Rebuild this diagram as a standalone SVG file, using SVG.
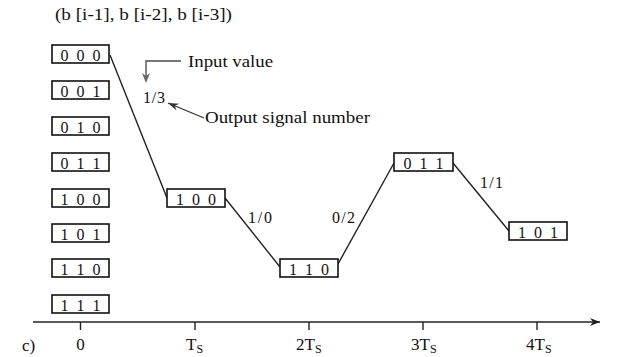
<svg xmlns="http://www.w3.org/2000/svg" width="620" height="357" viewBox="0 0 620 357">
<defs>
<style>
text{font-family:"Liberation Serif","Times New Roman",serif;fill:#111}
.box{fill:#fff;stroke:#111;stroke-width:1.6}
.bt{font-size:16px;text-anchor:middle}
.lbl{font-size:16px}
.ax{font-size:17px}
.sub{font-size:12px}
.edge{stroke:#222;stroke-width:1.4;fill:none}
</style>
<marker id="ah" viewBox="0 0 10 10" refX="10" refY="5" markerWidth="10" markerHeight="10" markerUnits="userSpaceOnUse" orient="auto">
<path d="M0,1 L10,5 L0,9 L3,5 Z" fill="#222"/>
</marker>
<marker id="ahd" viewBox="0 0 12 10" refX="12" refY="5" markerWidth="12" markerHeight="9" markerUnits="userSpaceOnUse" orient="auto">
<path d="M0,1 L12,5 L0,9 L4,5 Z" fill="#333"/>
</marker>
</defs>
<rect width="620" height="357" fill="#fff"/>
<text id="title" class="lbl" x="55" y="20" textLength="177" lengthAdjust="spacingAndGlyphs">(b [i-1], b [i-2], b [i-3])</text>

<g id="states">
<g id="s000"><rect class="box" x="52" y="45" width="57" height="18"/><text class="bt" x="80.5" y="61" textLength="40">0 0 0</text></g>
<g id="s001"><rect class="box" x="52" y="81" width="57" height="18"/><text class="bt" x="80.5" y="97" textLength="40">0 0 1</text></g>
<g id="s010"><rect class="box" x="52" y="117" width="57" height="18"/><text class="bt" x="80.5" y="133" textLength="40">0 1 0</text></g>
<g id="s011"><rect class="box" x="52" y="153" width="57" height="18"/><text class="bt" x="80.5" y="169" textLength="40">0 1 1</text></g>
<g id="s100"><rect class="box" x="52" y="189" width="57" height="18"/><text class="bt" x="80.5" y="205" textLength="40">1 0 0</text></g>
<g id="s101"><rect class="box" x="52" y="224" width="57" height="18"/><text class="bt" x="80.5" y="240" textLength="40">1 0 1</text></g>
<g id="s110"><rect class="box" x="52" y="259" width="57" height="18"/><text class="bt" x="80.5" y="275" textLength="40">1 1 0</text></g>
<g id="s111"><rect class="box" x="52" y="295" width="57" height="18"/><text class="bt" x="80.5" y="311" textLength="40">1 1 1</text></g>
</g>

<g id="connectors">
<path class="edge" d="M110,55 L167,198"/>
<path class="edge" d="M225,198 L280,267"/>
<path class="edge" d="M338,264 L394,163"/>
<path class="edge" d="M453,163 L509,231"/>
<path d="M181,61 L146,61 L146,76" stroke="#777" stroke-width="1.8" fill="none"/>
<path d="M142,73 L146,83 L150,73 L146,76 Z" fill="#666"/>
<path d="M204,118 L168,103" stroke="#333" stroke-width="1.3" fill="none" marker-end="url(#ahd)"/>
</g>

<g id="n1"><rect class="box" x="167" y="189" width="58" height="18"/><text class="bt" x="196" y="205" textLength="40">1 0 0</text></g>
<g id="n2"><rect class="box" x="280" y="259" width="58" height="18"/><text class="bt" x="309" y="275" textLength="40">1 1 0</text></g>
<g id="n3"><rect class="box" x="394" y="153" width="59" height="18"/><text class="bt" x="423.5" y="169" textLength="40">0 1 1</text></g>
<g id="n4"><rect class="box" x="509" y="222" width="58" height="18"/><text class="bt" x="538" y="238" textLength="40">1 0 1</text></g>

<g id="labels">
<text class="lbl" x="143" y="103" textLength="22">1/3</text>
<text class="lbl" x="248" y="223" textLength="24">1/0</text>
<text class="lbl" x="332" y="223" textLength="23">0/2</text>
<text class="lbl" x="480" y="188" textLength="23">1/1</text>
<text class="lbl" x="188" y="67" textLength="85" lengthAdjust="spacingAndGlyphs">Input value</text>
<text class="lbl" x="205" y="123" textLength="165" lengthAdjust="spacingAndGlyphs">Output signal number</text>
</g>

<g id="axis">
<path d="M33,322 L600,322" stroke="#222" stroke-width="1.6" fill="none" marker-end="url(#ah)"/>
<path d="M80.5,322 V330 M195,322 V330 M309,322 V330 M423,322 V330 M537,322 V330" stroke="#222" stroke-width="1.4"/>
<text class="ax" x="22" y="351">c)</text>
<text class="ax" x="80.5" y="350" text-anchor="middle">0</text>
<text class="ax" x="186" y="350">T<tspan class="sub" dy="3">S</tspan></text>
<text class="ax" x="296" y="350">2T<tspan class="sub" dy="3">S</tspan></text>
<text class="ax" x="411" y="350">3T<tspan class="sub" dy="3">S</tspan></text>
<text class="ax" x="526" y="350">4T<tspan class="sub" dy="3">S</tspan></text>
</g>
</svg>
